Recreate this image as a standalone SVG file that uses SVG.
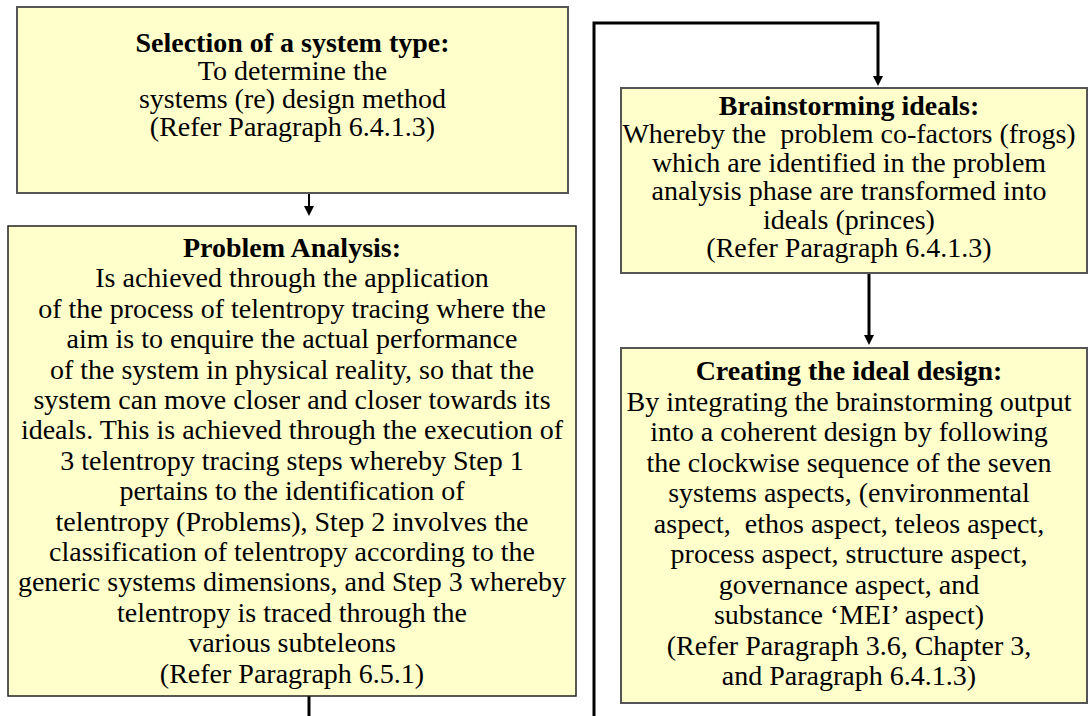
<svg xmlns="http://www.w3.org/2000/svg" width="1088" height="716" viewBox="0 0 1088 716">
<style>
.box{fill:#FFFFCC;stroke:#555;stroke-width:2}
.t{font-family:"Liberation Serif","Times New Roman",serif;font-size:28px;fill:#000;text-anchor:middle}
.b{font-weight:bold}
.c{fill:none;stroke:#000;stroke-width:3}
.c2{fill:none;stroke:#000;stroke-width:2}
</style>
<defs>
<marker id="ah" markerUnits="userSpaceOnUse" markerWidth="10" markerHeight="10" refX="0" refY="5" orient="auto">
<path d="M0,0 L10,5 L0,10 z" fill="#000"/>
</marker>
</defs>
<rect width="1088" height="716" fill="#fff"/>
<g id="connectors">
<path class="c2" d="M309,193 V206" marker-end="url(#ah)"/>
<path class="c" d="M309,690 V716"/>
<path class="c" d="M594,716 V23 H878 V76" marker-end="url(#ah)"/>
<path class="c" d="M869,273 V335" marker-end="url(#ah)"/>
</g>
<g id="node-selection">
<rect class="box" x="17" y="7" width="551" height="186"/>
<text class="t"><tspan class="b" x="292.5" y="52">Selection of a system type:</tspan><tspan x="292.5" y="80">To determine the</tspan><tspan x="292.5" y="108">systems (re) design method</tspan><tspan x="292.5" y="136">(Refer Paragraph 6.4.1.3)</tspan></text>
</g>
<g id="node-problem-analysis">
<rect class="box" x="8" y="226" width="568" height="470" style="stroke:#222;stroke-width:1.5"/>
<text class="t"><tspan class="b" x="292" y="257">Problem Analysis:</tspan><tspan x="292" y="287.4">Is achieved through the application</tspan><tspan x="292" y="317.8">of the process of telentropy tracing where the</tspan><tspan x="292" y="348.2">aim is to enquire the actual performance</tspan><tspan x="292" y="378.6">of the system in physical reality, so that the</tspan><tspan x="292" y="409">system can move closer and closer towards its</tspan><tspan x="292" y="439.4">ideals. This is achieved through the execution of</tspan><tspan x="292" y="469.8">3 telentropy tracing steps whereby Step 1</tspan><tspan x="292" y="500.2">pertains to the identification of</tspan><tspan x="292" y="530.6">telentropy (Problems), Step 2 involves the</tspan><tspan x="292" y="561">classification of telentropy according to the</tspan><tspan x="292" y="591.4">generic systems dimensions, and Step 3 whereby</tspan><tspan x="292" y="621.8">telentropy is traced through the</tspan><tspan x="292" y="652.2">various subteleons</tspan><tspan x="292" y="682.6">(Refer Paragraph 6.5.1)</tspan></text>
</g>
<g id="node-brainstorming">
<rect class="box" x="621" y="88" width="466" height="185"/>
<text class="t" xml:space="preserve"><tspan class="b" x="849" y="115">Brainstorming ideals:</tspan><tspan x="849" y="143.4">Whereby the  problem co-factors (frogs)</tspan><tspan x="849" y="171.8">which are identified in the problem</tspan><tspan x="849" y="200.2">analysis phase are transformed into</tspan><tspan x="849" y="228.6">ideals (princes)</tspan><tspan x="849" y="257">(Refer Paragraph 6.4.1.3)</tspan></text>
</g>
<g id="node-creating">
<rect class="box" x="621" y="348" width="466" height="355"/>
<text class="t" xml:space="preserve"><tspan class="b" x="849" y="380">Creating the ideal design:</tspan><tspan x="849" y="410.5">By integrating the brainstorming output</tspan><tspan x="849" y="441">into a coherent design by following</tspan><tspan x="849" y="471.5">the clockwise sequence of the seven</tspan><tspan x="849" y="502">systems aspects, (environmental</tspan><tspan x="849" y="532.5">aspect,  ethos aspect, teleos aspect,</tspan><tspan x="849" y="563">process aspect, structure aspect,</tspan><tspan x="849" y="593.5">governance aspect, and</tspan><tspan x="849" y="624">substance ‘MEI’ aspect)</tspan><tspan x="849" y="654.5">(Refer Paragraph 3.6, Chapter 3,</tspan><tspan x="849" y="685">and Paragraph 6.4.1.3)</tspan></text>
</g>
</svg>
